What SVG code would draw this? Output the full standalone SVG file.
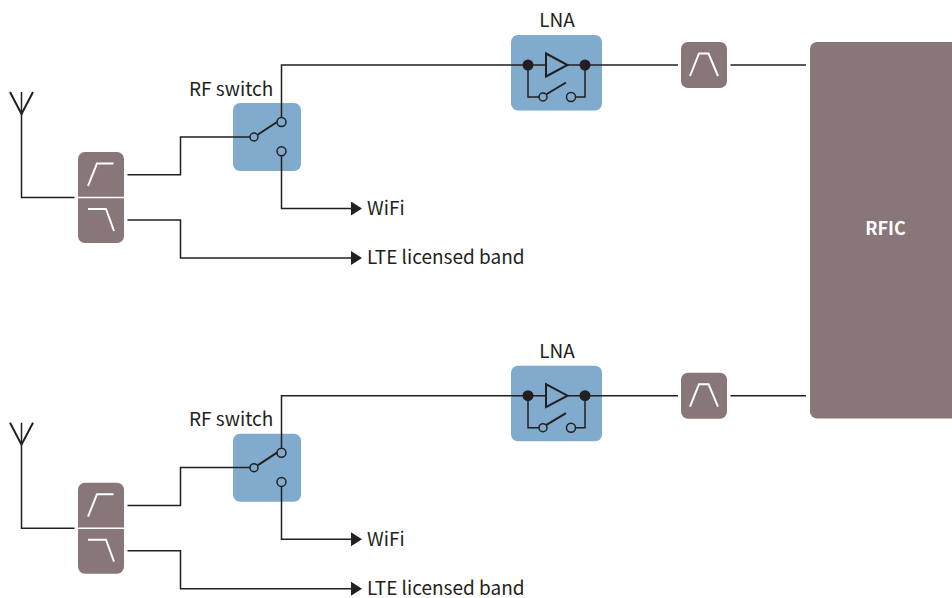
<svg xmlns="http://www.w3.org/2000/svg" width="952" height="598" viewBox="0 0 952 598">
<defs>
<marker id="arrow" markerUnits="userSpaceOnUse" markerWidth="12" markerHeight="14" refX="1" refY="7" orient="auto"><path d="M0 0L11 7L0 14Z" fill="#231f20"/></marker>
<g id="chain-conn">
<path class="w" d="M21.500 92V197.500H74.500"/>
<path class="w t" d="M10 92L21.500 114L33 92"/>
<path class="w" d="M127.500 174.800H180.500V136.900H250"/>
<path class="w" marker-end="url(#arrow)" d="M127.500 220H180.500V258H352"/>
<path class="w" d="M281.500 117V65H528"/>
<path class="w" marker-end="url(#arrow)" d="M281.500 155V208.500H352"/>
<path class="w" d="M585 65H678"/>
<path class="w" d="M730.500 65H806"/>
</g>
<g id="diplexer">
<rect class="gr" x="78" y="152" width="46" height="91" rx="7"/>
<path d="M78 197.500H124" stroke="#fff" fill="none" stroke-width="1.500"/>
<path class="f" d="M88 186L97 163.500H113.500"/>
<path class="f" d="M88 209H106L114 231"/>
</g>
<g id="sw">
<rect class="bl" x="233" y="103" width="68" height="68" rx="7"/>
</g>
<g id="sw-top">
<path class="w t" d="M258 134.500L277 122"/>
<circle class="o" cx="254" cy="137" r="4"/>
<circle class="o" cx="281.500" cy="122" r="4.500"/>
<circle class="o" cx="281.500" cy="151.200" r="4.500"/>
</g>
<g id="lna">
<rect class="bl" x="511" y="35" width="91" height="75.500" rx="7"/>
<path class="w" d="M528 65V97H539M575.500 97H585V65"/>
<path class="w" d="M528 65H546M568 65H585"/>
<path class="w t" d="M546 53.500L567.500 65L546 76.500Z"/>
<path class="w t" d="M546 94.500L566 82.500"/>
<circle class="o" cx="543" cy="97" r="4"/>
<circle class="o" cx="571" cy="97" r="4.500"/>
<circle cx="528" cy="65" r="5.500" fill="#231f20"/>
<circle cx="585" cy="65" r="5.500" fill="#231f20"/>
</g>
<g id="bpf">
<rect class="gr" x="681" y="42" width="46" height="46" rx="7"/>
<path class="f" d="M690 76L699 53.500H708.500L718 76"/>
</g>
</defs>
<style>
.w{fill:none;stroke:#231f20;stroke-width:1.500}
.t{stroke-width:2}
.gr{fill:#887678}
.bl{fill:#80abcd}
.f{fill:none;stroke:#fff;stroke-width:2}
.o{fill:#80abcd;stroke:#231f20;stroke-width:1.500}
text{font-family:"Noto Sans CJK SC","Noto Sans",sans-serif;font-size:19px;fill:#231f20}
</style>
<g id="node-rfic">
<rect class="gr" x="810" y="42" width="150" height="376.500" rx="7"/>
<text x="885.500" y="235" text-anchor="middle" style="fill:#fff;font-size:18px;font-weight:700">RFIC</text>
</g>
<g id="node-sw1"><use href="#sw"/></g>
<g id="node-lna1"><use href="#lna"/><text x="557" y="27" text-anchor="middle">LNA</text></g>
<g id="node-sw2" transform="translate(0 330.700)"><use href="#sw"/></g>
<g id="node-lna2" transform="translate(0 330.700)"><use href="#lna"/><text x="557" y="27" text-anchor="middle">LNA</text></g>
<g id="connectors">
<use href="#chain-conn"/>
<use href="#chain-conn" transform="translate(0 330.700)"/>
</g>
<g id="node-sw1-contacts"><use href="#sw-top"/><text x="189" y="95.500">RF switch</text></g>
<g id="node-sw2-contacts" transform="translate(0 330.700)"><use href="#sw-top"/><text x="189" y="95.500">RF switch</text></g>
<g id="node-diplexer1"><use href="#diplexer"/></g>
<g id="node-diplexer2" transform="translate(0 330.700)"><use href="#diplexer"/></g>
<g id="node-bpf1"><use href="#bpf"/></g>
<g id="node-bpf2" transform="translate(0 330.700)"><use href="#bpf"/></g>
<g id="labels">
<text x="367" y="215">WiFi</text>
<text x="367" y="264">LTE licensed band</text>
<text x="367" y="546">WiFi</text>
<text x="367" y="595">LTE licensed band</text>
</g>
</svg>
